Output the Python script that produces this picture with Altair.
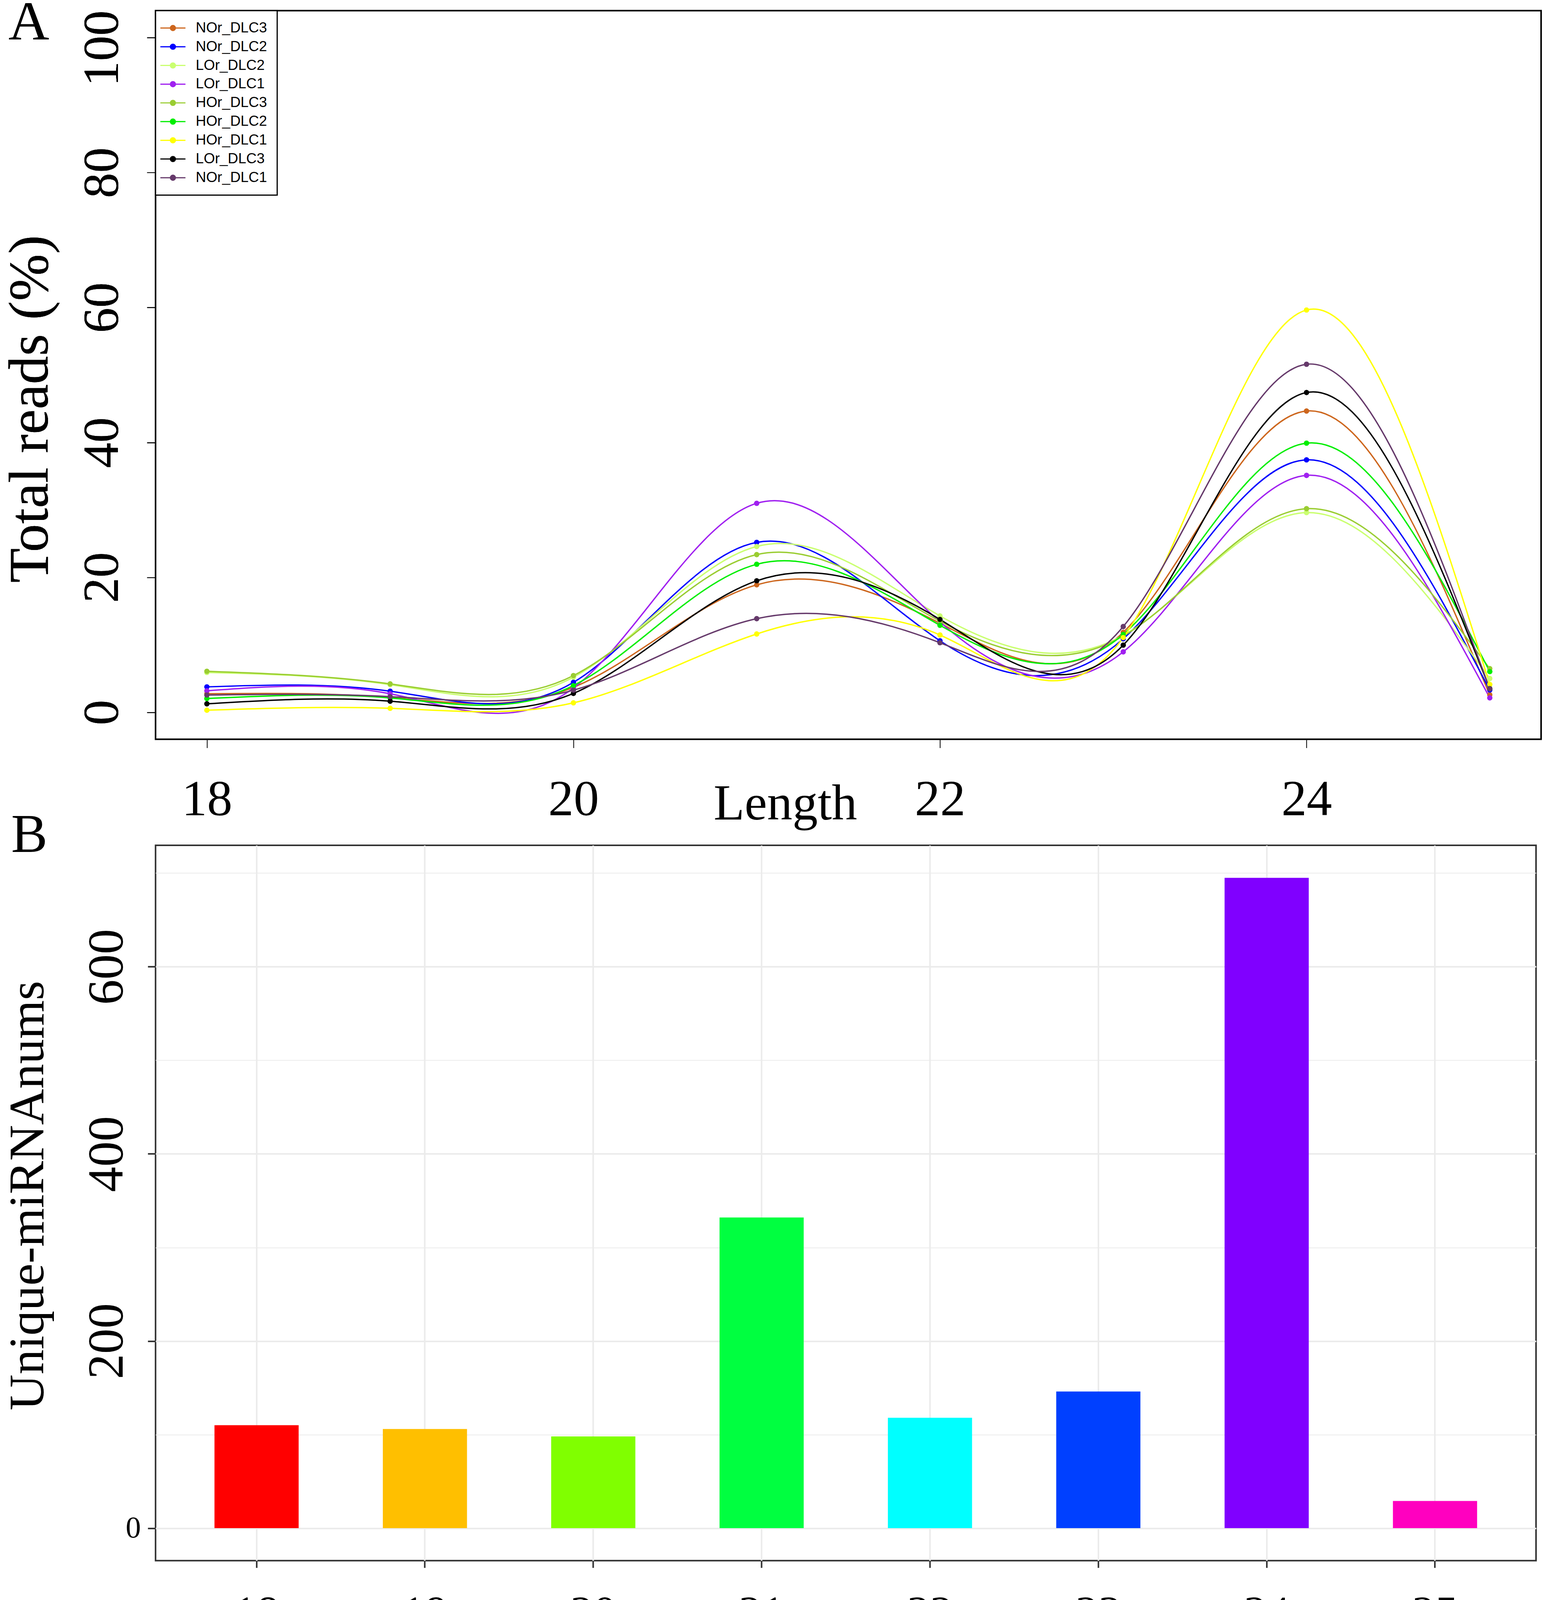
import altair as alt
import pandas as pd

SERIF = "Liberation Serif"
SANS = "Liberation Sans"

# ---------------- Panel A data ----------------
lengths = [18, 19, 20, 21, 22, 23, 24, 25]
samples = ["NOr_DLC3", "NOr_DLC2", "LOr_DLC2", "LOr_DLC1", "HOr_DLC3",
           "HOr_DLC2", "HOr_DLC1", "LOr_DLC3", "NOr_DLC1"]
sample_colors = ["#CD661D", "#0000FF", "#CAFF70", "#A020F0", "#9ACD32",
                 "#00EE00", "#FFFF00", "#000000", "#663A6B"]

NOr_DLC3 = [2.75, 2.20, 3.70, 18.90, 13.20, 11.85, 44.66, 2.59]
NOr_DLC2 = [3.77, 3.13, 4.44, 25.19, 10.60, 10.90, 37.42, 3.30]
LOr_DLC2 = [5.90, 4.10, 5.20, 24.58, 14.29, 11.40, 29.60, 5.01]
LOr_DLC1 = [3.19, 2.75, 3.60, 30.98, 13.40, 8.96, 35.12, 2.14]
HOr_DLC3 = [6.08, 4.21, 5.44, 23.38, 13.50, 11.30, 30.18, 6.47]
HOr_DLC2 = [2.04, 2.13, 3.96, 21.94, 12.90, 11.56, 39.89, 6.04]
HOr_DLC1 = [0.31, 0.59, 1.40, 11.61, 11.46, 11.07, 59.63, 4.13]
LOr_DLC3 = [1.26, 1.65, 2.80, 19.49, 13.77, 9.96, 47.40, 3.50]
NOr_DLC1 = [2.56, 2.32, 3.28, 13.88, 10.31, 12.71, 51.59, 3.47]

series = {
    "NOr_DLC3": NOr_DLC3, "NOr_DLC2": NOr_DLC2, "LOr_DLC2": LOr_DLC2,
    "LOr_DLC1": LOr_DLC1, "HOr_DLC3": HOr_DLC3, "HOr_DLC2": HOr_DLC2,
    "HOr_DLC1": HOr_DLC1, "LOr_DLC3": LOr_DLC3, "NOr_DLC1": NOr_DLC1,
}

y_ticks_A = [0, 20, 40, 60, 80, 100]
x_ticks_A = [18, 20, 22, 24]

# ---------------- Panel B data ----------------
bar_lengths = ["18", "19", "20", "21", "22", "23", "24", "25"]
unique_mirna = [110, 106, 98, 332, 118, 146, 695, 29]
bar_colors = ["#FF0000", "#FFBF00", "#80FF00", "#00FF40",
              "#00FFFF", "#0040FF", "#8000FF", "#FF00BF"]
y_major_B = [0, 200, 400, 600]
y_minor_B = [0, 100, 300, 500, 700]

# ---------------- build tables ----------------
rows = []
for s in samples:
    for L, v in zip(lengths, series[s]):
        rows.append({"Sample": s, "Length": L, "Reads": v})
dfA = pd.DataFrame(rows)
dfB = pd.DataFrame({"Length": bar_lengths, "Unique": unique_mirna})

# ---------------- Panel A ----------------
PATH = "M-2.3,0H2.3M-0.46,0A0.46,0.46,0,1,1,0.46,0A0.46,0.46,0,1,1,-0.46,0Z"

legendA = alt.Legend(
    title=None, orient="top-left", offset=0, padding=26,
    fillColor="white", strokeColor="black",
    labelFont=SANS, labelFontSize=37, labelColor="black",
    labelOffset=40, labelLimit=0,
    symbolType=PATH, symbolSize=784, symbolStrokeWidth=3, rowPadding=10,
)

colorA = alt.Color("Sample:N", scale=alt.Scale(domain=samples, range=sample_colors),
                   legend=legendA)

xA = alt.X(
    "Length:Q",
    scale=alt.Scale(domain=[17.72, 25.28], nice=False, zero=False),
    axis=alt.Axis(
        values=x_ticks_A, format="d", title="Length", grid=False, domain=False,
        tickSize=22, tickWidth=2, tickColor="black",
        labelFont=SERIF, labelFontSize=130, labelColor="black",
        labelBaseline="alphabetic", labelPadding=172, labelFlush=False,
        labelOverlap=False, labelLimit=1000,
        titleFont=SERIF, titleFontSize=130, titleFontWeight="normal",
        titleColor="black", titleX=1615, titleY=205, titleBaseline="alphabetic",
    ),
)
scaleYA = alt.Scale(domain=[-4, 104], nice=False, zero=False)
yA = alt.Y(
    "Reads:Q", scale=scaleYA,
    axis=alt.Axis(
        orient="left", values=y_ticks_A, title="Total reads (%)", grid=False,
        domain=False, tickSize=22, tickWidth=2, tickColor="black",
        labelFont=SERIF, labelFontSize=130, labelColor="black",
        labelAngle=270, labelAlign="center", labelBaseline="alphabetic",
        labelPadding=75, labelFlush=False, labelOverlap=False, labelLimit=1000,
        labelOffset={"condition": {"test": "datum.value == 100", "value": 27},
                     "value": 0},
        titleFont=SERIF, titleFontSize=145, titleFontWeight="normal",
        titleColor="black", titleAngle=270, titleX=-277, titleY=1021,
        titleBaseline="alphabetic", titleAlign="center", titleLimit=3000,
    ),
)
# panel letter "A" carried by a second, otherwise empty, left axis
yA_letter = alt.Y(
    "Reads:Q", scale=scaleYA,
    axis=alt.Axis(
        orient="left", title="A", labels=False, ticks=False, domain=False,
        grid=False, titleFont=SERIF, titleFontSize=145,
        titleFontWeight="normal", titleColor="black", titleAngle=0,
        titleX=-378, titleY=73, titleAlign="left", titleBaseline="alphabetic",
    ),
)

baseA = alt.Chart(dfA)
pointsA0 = baseA.mark_circle(size=180, opacity=1).encode(
    x=xA, y=yA, color=colorA)
linesA = baseA.mark_line(interpolate="natural", strokeWidth=3.5).encode(
    x=xA, y=yA, color=colorA)
pointsA = baseA.mark_circle(size=180, opacity=1).encode(
    x=xA, y=yA, color=colorA)
letterA = baseA.mark_circle(opacity=0).encode(x=xA, y=yA_letter)

panelA = alt.layer(pointsA0, linesA, pointsA, letterA).resolve_axis(
    y="independent"
).properties(
    width=3554, height=1869,
    view=alt.ViewBackground(stroke="black", strokeWidth=4),
)

# ---------------- Panel B ----------------
xB = alt.X(
    "Length:N", sort=bar_lengths,
    scale=alt.Scale(paddingInner=0.5, paddingOuter=0.35),
    axis=alt.Axis(
        title="Length", labelAngle=0, grid=True, gridColor="#EBEBEB",
        gridWidth=4, domain=False, tickSize=18, tickWidth=4,
        tickColor="#333333", labelFont=SERIF, labelFontSize=118,
        labelColor="black", labelBaseline="alphabetic", labelPadding=155,
        titleFont=SERIF, titleFontSize=130, titleFontWeight="normal",
        titleColor="black", titleY=305, titleBaseline="alphabetic",
    ),
)
scaleYB = alt.Scale(domain=[-34.75, 729.75], nice=False, zero=False)

barsB = alt.Chart(dfB).mark_bar().encode(
    x=xB,
    y=alt.Y("Unique:Q", scale=scaleYB, axis=alt.Axis(
        orient="left", values=y_major_B,
        labelExpr="datum.value == 0 ? '' : datum.label",
        title="Unique-miRNAnums", grid=True, gridColor="#EBEBEB", gridWidth=4,
        domain=False, tickSize=20, tickWidth=4, tickColor="#333333",
        labelFont=SERIF, labelFontSize=130, labelColor="black",
        labelAngle=270, labelAlign="center", labelBaseline="alphabetic",
        labelPadding=65, labelFlush=False, labelOverlap=False, labelLimit=1000,
        titleFont=SERIF, titleFontSize=128, titleFontWeight="normal",
        titleColor="black", titleAngle=270, titleX=-288, titleY=898,
        titleBaseline="alphabetic", titleAlign="center", titleLimit=3000,
    )),
    y2=alt.datum(0),
    color=alt.Color("Length:N", scale=alt.Scale(domain=bar_lengths, range=bar_colors),
                    legend=None),
)

# minor grid + upright "0" label + panel letter "B"
minorB = alt.Chart(dfB).mark_bar(opacity=0).encode(
    x=xB,
    y=alt.Y("Unique:Q", scale=scaleYB, axis=alt.Axis(
        orient="left", values=y_minor_B,
        labelExpr="datum.value == 0 ? '0' : ''",
        title="B", grid=True, gridColor="#EBEBEB", gridWidth=2,
        domain=False, ticks=False, tickSize=0,
        labelFont=SERIF, labelFontSize=78, labelColor="black",
        labelAngle=0, labelAlign="right", labelBaseline="middle",
        labelPadding=38, labelFlush=False, labelOverlap=False,
        titleFont=SERIF, titleFontSize=140, titleFontWeight="normal",
        titleColor="black", titleAngle=0, titleX=-371, titleY=17,
        titleAlign="left", titleBaseline="alphabetic",
    )),
    y2=alt.datum(0),
)

panelB = alt.layer(minorB, barsB).resolve_axis(y="independent").properties(
    width=3541, height=1835,
    view=alt.ViewBackground(stroke="#333333", strokeWidth=4),
)

chart = alt.vconcat(panelA, panelB, spacing=272, bounds="flush").resolve_scale(
    color="independent"
).properties(
    padding={"top": -30, "left": -4, "right": 0, "bottom": 0},
    background="white",
).configure_legend(strokeWidth=3)

chart.save("out.html", embed_options={"renderer": "svg", "actions": False})
